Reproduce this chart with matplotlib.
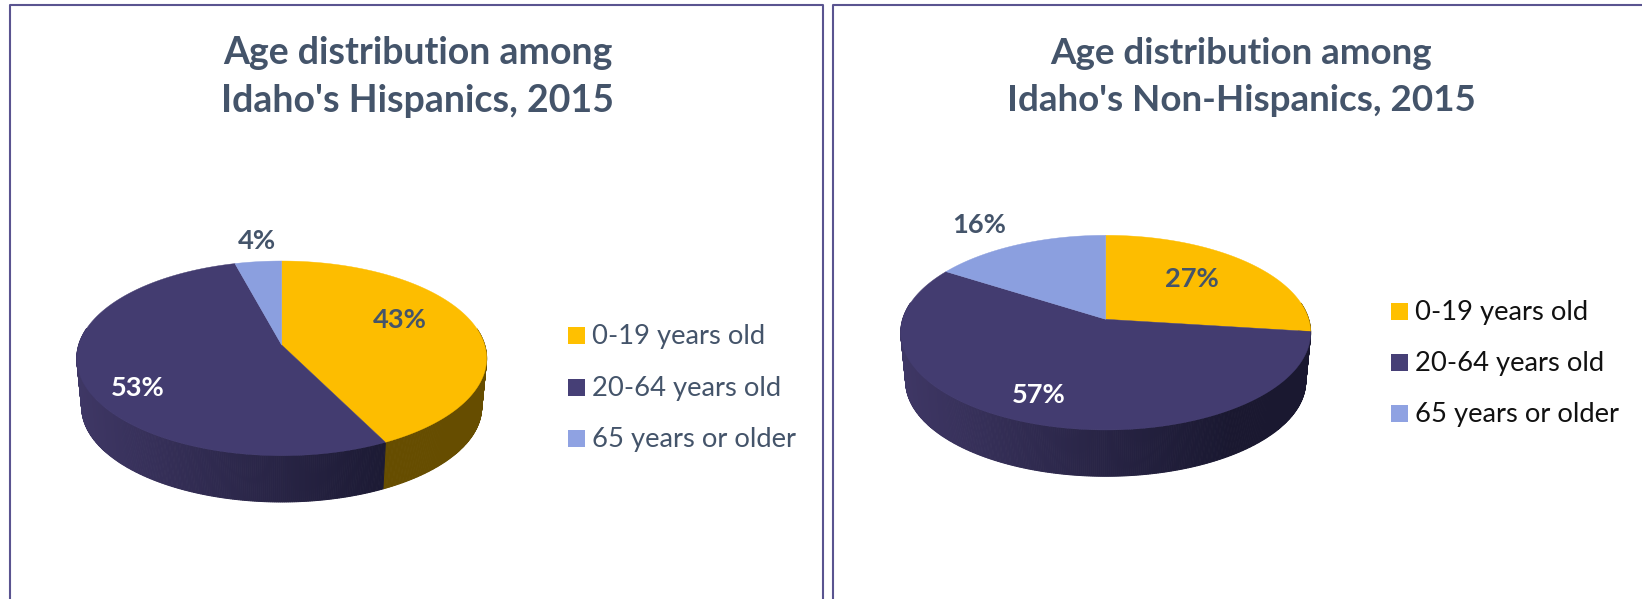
import numpy as np
import matplotlib
matplotlib.use('Agg')
import matplotlib.pyplot as plt
from matplotlib.patches import Polygon, Rectangle

plt.rcParams['font.family'] = ['Lato', 'DejaVu Sans']

W, H = 1642, 599

categories = ['0-19 years old', '20-64 years old', '65 years or older']
hispanic = [42.6, 53.2, 4.2]
non_hispanic = [27, 57, 16]
titles = ["Age distribution among\nIdaho's Hispanics, 2015",
          "Age distribution among\nIdaho's Non-Hispanics, 2015"]

colors = ['#FDBD00', '#433C70', '#8B9FDF']
legend_colors = ['#FFC000', '#463F76', '#8FA2E2']
text_col = '#44546A'
frame_col = '#5A5490'

# perspective of the tilted pie
K = 0.137
RX = 203.0
RY = 95.5
DEPTH = 49.0
BOTTOM = 0.976


def project(deg, cx, cy, scale=1.0, shift=0.0):
    # deg runs clockwise from 12 o'clock
    t = np.radians(deg)
    u, v = np.sin(t), np.cos(t)
    d = 1 + K * v
    return cx + scale * RX * u / d, cy + shift - scale * RY * v / d


def side_color(x, cx, base):
    # wall gets darker from left to right
    f = np.clip((x - cx + 205) / 330, 0, 1)
    return tuple(base[0] + (base[1] - base[0]) * f)


def draw_pie(ax, values, cx, cy):
    edges = np.cumsum([0] + values) * 3.6
    walls = [np.array([[0.40, 0.30, 0.00], [0.40, 0.30, 0.00]]),
             np.array([[0.245, 0.215, 0.395], [0.10, 0.094, 0.19]]),
             np.array([[0.24, 0.27, 0.40], [0.24, 0.27, 0.40]])]
    # wall, front part only
    for i in range(3):
        for a in np.arange(max(edges[i], 80), min(edges[i + 1], 280), 0.5):
            b = min(a + 0.5, edges[i + 1])
            x1, y1 = project(a, cx, cy)
            x2, y2 = project(b, cx, cy)
            x3, y3 = project(b, cx, cy, BOTTOM, DEPTH)
            x4, y4 = project(a, cx, cy, BOTTOM, DEPTH)
            col = side_color((x1 + x2) / 2, cx, walls[i])
            ax.add_patch(Polygon([[x1, y1], [x2, y2], [x3, y3], [x4, y4]],
                                 fc=col, ec=col, lw=0.7, zorder=2))
    # top face
    for i in range(3):
        t = np.linspace(edges[i], edges[i + 1], 150)
        xs, ys = project(t, cx, cy)
        pts = np.column_stack([np.r_[cx, xs], np.r_[cy, ys]])
        ax.add_patch(Polygon(pts, fc=colors[i], ec=colors[i], lw=0.3, zorder=3))


def draw_legend(ax, x0, centers, col):
    for name, c, yc in zip(categories, legend_colors, centers):
        ax.add_patch(Rectangle((x0, yc - 8.5), 17, 17, fc=c, ec='none', zorder=4))
        ax.text(x0 + 24, yc + 1, name, color=col, fontsize=19.7, va='center', ha='left')


fig = plt.figure(figsize=(W / 100, H / 100), dpi=100)
ax = fig.add_axes([0, 0, 1, 1])
ax.set_xlim(0, W)
ax.set_ylim(H, 0)
ax.axis('off')

# panel frames, open at the bottom, the right one also open at the page edge
ax.plot([10, 10, 823, 823], [H + 5, 4.5, 4.5, H + 5], color=frame_col, lw=1.5, zorder=1)
ax.plot([833, 833, W + 5], [H + 5, 4.5, 4.5], color=frame_col, lw=1.5, zorder=1)

draw_pie(ax, hispanic, 281.7, 345)
draw_pie(ax, non_hispanic, 1105.7, 319.3)

ax.text(417.5, 77, titles[0], color=text_col, fontsize=27, fontweight='bold',
        ha='center', va='center', linespacing=1.47)
ax.text(1241, 77, titles[1], color=text_col, fontsize=26.5, fontweight='bold',
        ha='center', va='center', linespacing=1.5)

lab = dict(fontsize=19.6, fontweight='bold', ha='center', va='center', zorder=5)
ax.text(400, 320, f'{round(hispanic[0])}%', color=text_col, **lab)
ax.text(138, 388, f'{round(hispanic[1])}%', color='white', **lab)
ax.text(257, 241, f'{round(hispanic[2])}%', color=text_col, **lab)
ax.text(1192, 279, f'{non_hispanic[0]}%', color=text_col, **lab)
ax.text(1039, 395, f'{non_hispanic[1]}%', color='white', **lab)
ax.text(979, 225, f'{non_hispanic[2]}%', color=text_col, **lab)

draw_legend(ax, 568, [335.5, 387.5, 438.5], text_col)
draw_legend(ax, 1391, [311.5, 362.5, 413.5], '#111111')

fig.savefig('out.png', dpi=100)
